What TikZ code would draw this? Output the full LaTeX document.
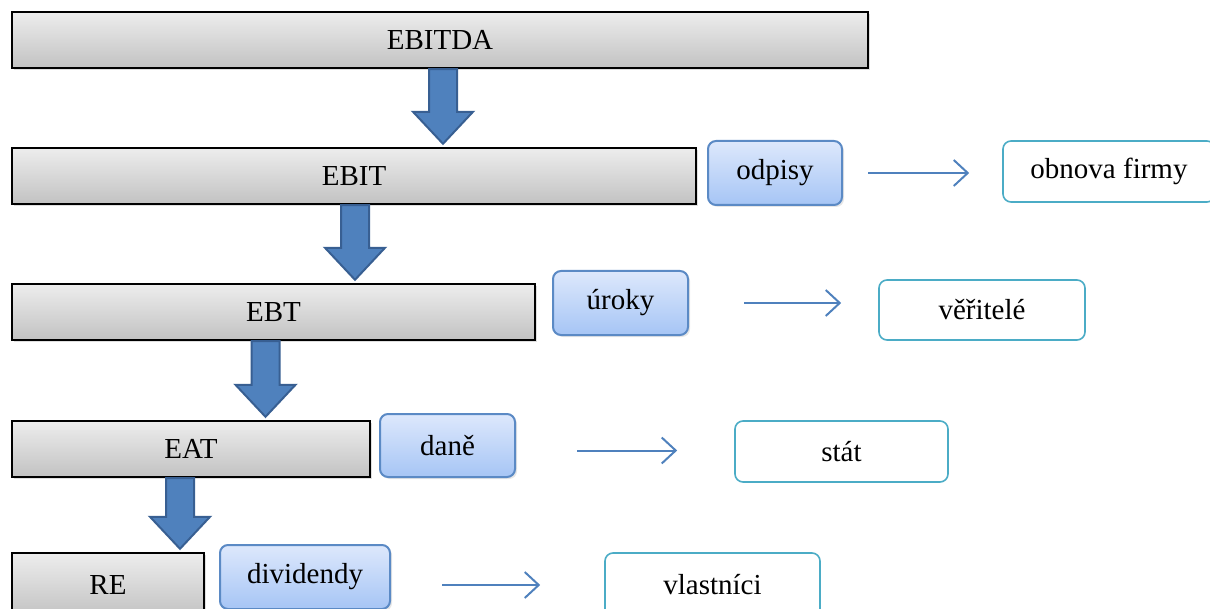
\documentclass[tikz,border=0pt]{standalone}
\usepackage{fontspec}
\setmainfont{Liberation Serif}
\usetikzlibrary{arrows.meta, calc, shadows}

\definecolor{boxtop}{HTML}{EDEDED}
\definecolor{boxbot}{HTML}{C2C2C2}
\definecolor{costtop}{HTML}{DDE8FC}
\definecolor{costbot}{HTML}{A6C5F5}
\definecolor{costline}{HTML}{5B8AC5}
\definecolor{flowblue}{HTML}{4F81BD}
\definecolor{flowdark}{HTML}{385F92}
\definecolor{teal}{HTML}{4BACC6}

\begin{document}
\begin{tikzpicture}[x=0.5pt, y=-0.5pt,
    every node/.style={font=\fontsize{14.5}{17}\selectfont, inner sep=0pt},
    profit/.style={draw=black, line width=1.2pt, top color=boxtop, bottom color=boxbot,
      drop shadow={opacity=0.25, shadow xshift=1.2pt, shadow yshift=-1.2pt}},
    cost/.style={draw=costline, line width=1pt, rounded corners=4pt,
      top color=costtop, bottom color=costbot,
      drop shadow={opacity=0.2, shadow xshift=1pt, shadow yshift=-1pt}},
    taker/.style={draw=teal, line width=0.8pt, rounded corners=4pt, fill=white},
    bigarrow/.style={fill=flowblue, draw=flowdark, line width=1pt, line join=miter},
    flow/.style={draw=flowblue, line width=1pt, -{Straight Barb[length=7pt,width=13pt]}}
  ]
  \useasboundingbox (0,0) rectangle (1210,609);
  \clip (0,0) rectangle (1210,609);

  % profit levels
  \node[profit, minimum width=428pt, minimum height=28pt] (ebitda) at (440,40) {EBITDA};
  \node[profit, minimum width=342pt, minimum height=28pt] (ebit) at (354,176) {EBIT};
  \node[profit, minimum width=261.5pt, minimum height=28pt] (ebt) at (273.5,312) {EBT};
  \node[profit, minimum width=179pt, minimum height=28pt] (eat) at (191,449) {EAT};
  \node[profit, minimum width=96pt, minimum height=32pt] (re) at (108,585) {RE};

  % big arrows between the levels
  \foreach \a/\b/\dx in {ebitda/ebit/3, ebit/ebt/1, ebt/eat/-8, eat/re/-11} {
    \coordinate (top) at ($(\a.south)+(\dx,0)$);
    \coordinate (tip) at ($(top |- \b.north)+(0,-3)$);
    \draw[bigarrow] ($(top)+(-14,0)$) -- ($(tip)+(-14,-32)$) -- ($(tip)+(-30,-32)$)
      -- (tip) -- ($(tip)+(30,-32)$) -- ($(tip)+(14,-32)$) -- ($(top)+(14,0)$) -- cycle;
  }

  % deductions
  \node[cost, minimum width=67pt, minimum height=32pt] (odpisy) at (775,173) {odpisy};
  \node[cost, minimum width=67.5pt, minimum height=32pt] (uroky) at (620.5,303) {úroky};
  \node[cost, minimum width=67.5pt, minimum height=31.5pt] (dane) at (447.5,445.5) {daně};
  \node[cost, minimum width=85pt, minimum height=32pt] (dividendy) at (305,577) {dividendy};

  % receivers
  \node[taker, minimum width=106pt, minimum height=30.5pt] (obnova) at (1109,171.5) {obnova firmy};
  \node[taker, minimum width=103pt, minimum height=30pt] (veritele) at (982,310) {věřitelé};
  \node[taker, minimum width=106.5pt, minimum height=30.5pt] (stat) at (841.5,451.5) {stát};
  \node[taker, minimum width=107.5pt, minimum height=32pt] (vlastnici) at (712.5,585) {vlastníci};

  % where the money goes
  \draw[flow, shorten <=12.5pt, shorten >=16.5pt] (odpisy.east) -- (odpisy.east -| obnova.west);
  \draw[flow, shorten <=27.5pt, shorten >=18.5pt] (uroky.east) -- (uroky.east -| veritele.west);
  \draw[flow, shorten <=30.5pt, shorten >=28.5pt] ($(dane.east)+(0,5)$) -- ($(dane.east -| stat.west)+(0,5)$);
  \draw[flow, shorten <=25.5pt, shorten >=32pt] (dividendy.east |- vlastnici.west) -- (vlastnici.west);
\end{tikzpicture}
\end{document}
